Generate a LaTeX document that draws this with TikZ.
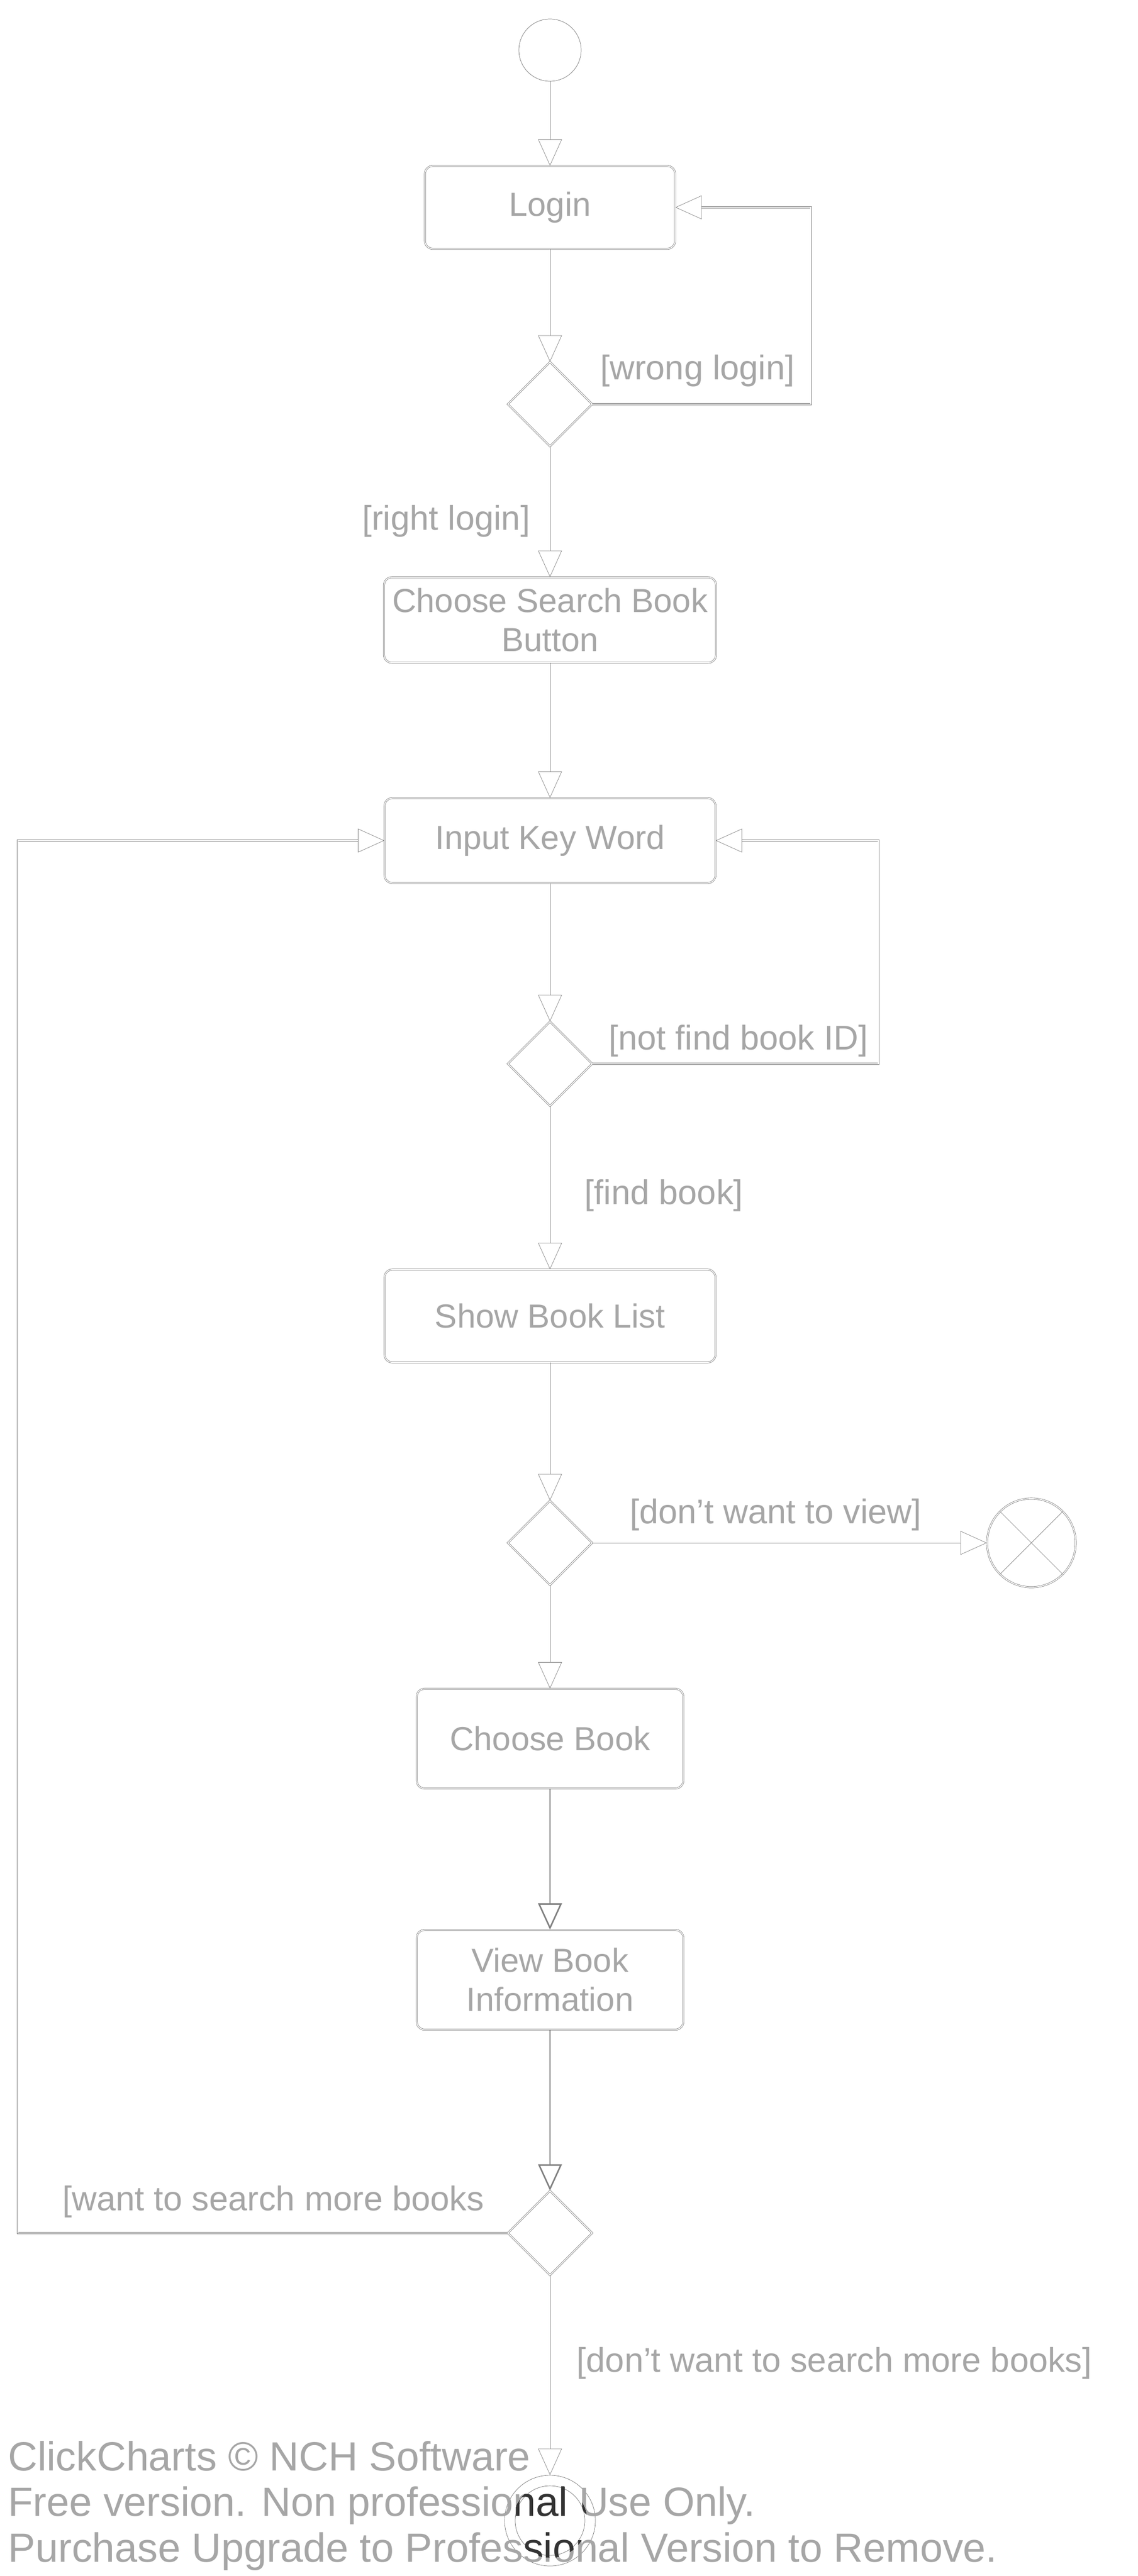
\documentclass[tikz,border=0pt]{standalone}
\usepackage{fontspec}
\setmainfont{Liberation Sans}
\usetikzlibrary{shapes.geometric, arrows.meta, positioning}
\tikzset{
  start/.style={circle, draw=black!55, very thin, minimum size=1.18cm, inner sep=0pt},
  action/.style={rectangle, rounded corners=0.15cm, draw=black!55, very thin, double, double distance=0.5pt, text=black!35, font=\fontsize{18}{21}\selectfont, align=center, inner xsep=2pt},
  decision/.style={diamond, draw=black!55, very thin, double, double distance=0.5pt, minimum width=1.6cm, minimum height=1.6cm, inner sep=0pt},
  flowend/.style={circle, draw=black!55, very thin, double, double distance=0.5pt, minimum size=1.68cm, inner sep=0pt},
  finalnode/.style={circle, draw=black!55, very thin, minimum size=1.72cm, inner sep=0pt},
  guard/.style={text=black!35, font=\fontsize{18.5}{21}\selectfont, inner sep=0pt},
  wmark/.style={anchor=base west, inner sep=0pt, text=black!35, font=\fontsize{22}{24}\selectfont},
  arrow/.style={draw=black!50, very thin, -{Triangle[open, length=0.5cm, width=0.45cm]}},
  loopline/.style={arrow, double, double distance=0.6pt}
}
\begin{document}
\begin{tikzpicture}[node distance=4cm]
\useasboundingbox (0,0) rectangle (21.55,-48.82);
\fill[white] (0,0) rectangle (21.55,-48.82);

\node (start) [start] at (10.42,-0.95) {};
\node (login) [action, below of=start, yshift=1.02cm, minimum width=4.74cm, minimum height=1.57cm] {Login};
\node (dec1) [decision, below of=login, yshift=0.27cm] {};
\node (choosesearch) [action, below of=dec1, yshift=-0.09cm, minimum width=6.29cm, minimum height=1.62cm] {Choose Search Book\\Button};
\node (input) [action, below of=choosesearch, yshift=-0.18cm, minimum width=6.27cm, minimum height=1.61cm] {Input Key Word};
\node (dec2) [decision, below of=input, yshift=-0.23cm] {};
\node (showlist) [action, below of=dec2, yshift=-0.78cm, minimum width=6.27cm, minimum height=1.76cm] {Show Book List};
\node (dec3) [decision, below of=showlist, yshift=-0.30cm] {};
\node (stopflow) [flowend, right of=dec3, xshift=5.12cm] {};
\node (choosebook) [action, below of=dec3, yshift=0.29cm, minimum width=5.05cm, minimum height=1.89cm] {Choose Book};
\node (viewinfo) [action, below of=choosebook, yshift=-0.57cm, minimum width=5.05cm, minimum height=1.89cm] {View Book\\Information};
\node (dec4) [decision, below of=viewinfo, yshift=-0.80cm] {};
\node (final) [finalnode, below of=dec4, yshift=-1.45cm] {};

\coordinate [right=4.14cm of dec1.east] (loginloop);
\coordinate [right=5.42cm of dec2.east] (inputloop);
\coordinate [left=9.28cm of dec4.west] (backloop);

\node (wronglogin) [guard, above right=0.32cm and 0.14cm of dec1.east] {[wrong login]};
\node (rightlogin) [guard, below left=1.1cm and 0.37cm of dec1.south] {[right login]};
\node (notfind) [guard, above right=0.12cm and 0.3cm of dec2.east] {[not find book ID]};
\node (findbook) [guard, below right=1.38cm and 0.65cm of dec2.south] {[find book]};
\node (noview) [guard, above right=0.22cm and 0.7cm of dec3.east] {[don't want to view]};
\node (moresearch) [guard, above left=0.28cm and 0.44cm of dec4.west] {[want to search more books};
\node (nomore) [guard, below right=1.35cm and 0.5cm of dec4.south] {[don't want to search more books]};

\draw [arrow] (start) -- (login);
\draw [arrow] (login) -- (dec1);
\draw [loopline] (dec1.east) -- (loginloop) |- (login.east);
\draw [arrow] (dec1) -- (choosesearch);
\draw [arrow] (choosesearch) -- (input);
\draw [arrow] (input) -- (dec2);
\draw [loopline] (dec2.east) -- (inputloop) |- (input.east);
\draw [arrow] (dec2) -- (showlist);
\draw [arrow] (showlist) -- (dec3);
\draw [arrow] (dec3) -- (stopflow);
\draw [black!55, very thin] (stopflow.45) -- (stopflow.225) (stopflow.135) -- (stopflow.315);
\draw [arrow] (dec3) -- (choosebook);
\draw [arrow, thick] (choosebook) -- (viewinfo);
\draw [arrow, thick] (viewinfo) -- (dec4);
\draw [loopline] (dec4.west) -- (backloop) |- (input.west);
\draw [arrow] (dec4) -- (final);
\draw [black!55, very thin] (final.center) circle (0.66cm);

% watermark
\node (wm1) [wmark] at (0.15,-46.82) {ClickCharts © NCH Software};
\node (wm2) [wmark] at (0.15,-47.68) {Free version. Non professional Use Only.};
\node (wm3) [wmark] at (0.15,-48.55) {Purchase Upgrade to Professional Version to Remove.};
\begin{scope}
\clip (final.center) circle (0.7cm);
\node (wm2dark) [wmark, text=black!80] at (0.15,-47.68) {Free version. Non professional Use Only.};
\node (wm3dark) [wmark, text=black!80] at (0.15,-48.55) {Purchase Upgrade to Professional Version to Remove.};
\end{scope}
\end{tikzpicture}
\end{document}
